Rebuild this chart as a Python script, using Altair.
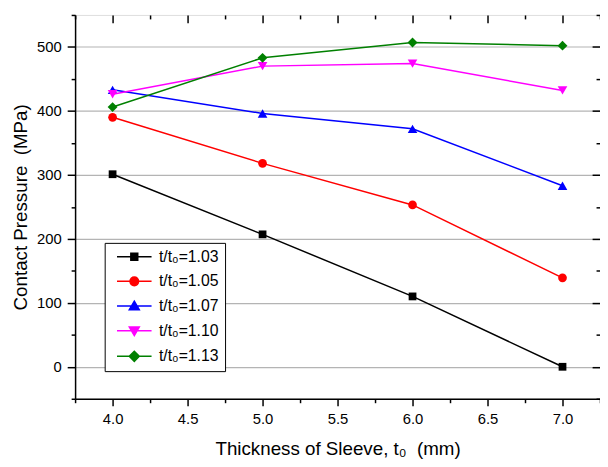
import altair as alt
import pandas as pd

thickness = [4.0, 5.0, 6.0, 7.0]
series_names = ["t/t₀=1.03", "t/t₀=1.05", "t/t₀=1.07", "t/t₀=1.10", "t/t₀=1.13"]
p103 = [301, 207, 110, 0]
p105 = [390, 318, 253, 139]
p107 = [433, 396, 372, 283]
p110 = [426, 470, 474, 432]
p113 = [406, 483, 507, 502]
all_values = [p103, p105, p107, p110, p113]

colors = ["#000000", "#ff0000", "#0000ff", "#ff00ff", "#008000"]
shapes = ["square", "circle", "triangle-up", "triangle-down", "diamond"]
marker_sizes = [62, 78, 95, 95, 100]
legend_paths = [
    "M-5,0H5M-1,-1H1V1H-1Z",
    "M-5,0H5M-1.25,0A1.25,1.25,0,1,1,1.25,0A1.25,1.25,0,1,1,-1.25,0Z",
    "M-5,0H5M0,-1.4L1.45,1.1H-1.45Z",
    "M-5,0H5M0,1.4L1.45,-1.1H-1.45Z",
    "M-5,0H5M0,-1.45L1.45,0L0,1.45L-1.45,0Z",
]

x_major = [4.0, 4.5, 5.0, 5.5, 6.0, 6.5, 7.0]
x_minor = [3.75, 4.25, 4.75, 5.25, 5.75, 6.25, 6.75, 7.25]
y_major = [0, 100, 200, 300, 400, 500]
y_minor = [-50, 50, 150, 250, 350, 450, 550]

rows = []
for name, vals in zip(series_names, all_values):
    for t, v in zip(thickness, vals):
        rows.append({"series": name, "t0": t, "p": v})
df = pd.DataFrame(rows)

FONT = "Liberation Sans"
xs = alt.Scale(domain=[3.75, 7.25], nice=False, zero=False)
ys = alt.Scale(domain=[-50, 550], nice=False, zero=False)

common = dict(domainColor="black", domainWidth=1.5, tickColor="black", tickWidth=1.5,
              labelColor="black", titleColor="black", labelFont=FONT, titleFont=FONT)

x_main = alt.X("t0:Q", scale=xs, title="Thickness of Sleeve, t₀\u00a0 (mm)",
               axis=alt.Axis(orient="bottom", values=x_major, format=".1f", tickSize=7,
                             labelPadding=6, labelFontSize=15, titleFontSize=19,
                             titlePadding=13, titleFontWeight="normal", grid=False,
                             labelFlush=False, **common))
y_main = alt.Y("p:Q", scale=ys, title="Contact Pressure\u00a0 (MPa)",
               axis=alt.Axis(orient="left", values=y_major, format="d", tickSize=8,
                             labelPadding=6, labelFontSize=15, titleFontSize=19,
                             titlePadding=6, titleFontWeight="normal", grid=True,
                             gridColor="#b4b4b4", gridWidth=1.2, labelFlush=False,
                             **common))

# main axes layer (invisible marks, carries bottom/left axes and grid)
main_axes = alt.Chart(df).mark_point(opacity=0).encode(x=x_main, y=y_main)

series_layers = []
for name, col, shp, sz in zip(series_names, colors, shapes, marker_sizes):
    base = alt.Chart(df).transform_filter(alt.datum.series == name).encode(
        x=alt.X("t0:Q", scale=xs, axis=None),
        y=alt.Y("p:Q", scale=ys, axis=None),
    )
    series_layers.append(base.mark_line(strokeWidth=1.5, color=col))
    series_layers.append(base.mark_point(filled=True, opacity=1, shape=shp, size=sz, color=col))


def tick_layer(xorient, xvals, xoff, xsize, yorient, yvals, yoff, ysize):
    return alt.Chart(df).mark_point(opacity=0).encode(
        x=alt.X("t0:Q", scale=xs, title=None,
                axis=alt.Axis(orient=xorient, values=xvals, offset=xoff, tickSize=xsize,
                              labels=False, domain=False, grid=False, tickColor="black",
                              tickWidth=1.5)),
        y=alt.Y("p:Q", scale=ys, title=None,
                axis=alt.Axis(orient=yorient, values=yvals, offset=yoff, tickSize=ysize,
                              labels=False, domain=False, grid=False, tickColor="black",
                              tickWidth=1.5)),
    )


minor_out = tick_layer("bottom", x_minor, 0, 4, "left", y_minor, 0, 4)
major_in = tick_layer("top", x_major, -8, 8, "right", y_major, -8, 8)
minor_in = tick_layer("top", x_minor, -4, 4, "right", y_minor, -4, 4)

leg = alt.Legend(title=None, orient="none", legendX=30, legendY=231, padding=6,
                 strokeColor="black", fillColor="white", symbolSize=49,
                 symbolStrokeWidth=1.5, symbolOffset=16, labelOffset=17,
                 labelFont=FONT, labelFontSize=16, labelColor="black", rowPadding=9,
                 cornerRadius=0)

legend_layer = alt.Chart(df).transform_filter("false").mark_point(
    filled=True, opacity=1, size=49, strokeWidth=1.5).encode(
    color=alt.Color("series:N", scale=alt.Scale(domain=series_names, range=colors), legend=leg),
    stroke=alt.Stroke("series:N", scale=alt.Scale(domain=series_names, range=colors), legend=leg),
    shape=alt.Shape("series:N", scale=alt.Scale(domain=series_names, range=legend_paths), legend=leg),
)

chart = alt.layer(main_axes, *series_layers, minor_out, major_in, minor_in, legend_layer).resolve_axis(
    x="independent", y="independent"
).properties(
    width=532, height=389,
    autosize=alt.AutoSizeParams(type="none"),
    padding={"left": 68, "top": 4, "right": 0, "bottom": 58},
).configure_view(stroke="black", strokeWidth=1.5).configure(background="white")

chart.save("out.html", embed_options={"renderer": "svg", "actions": False})
